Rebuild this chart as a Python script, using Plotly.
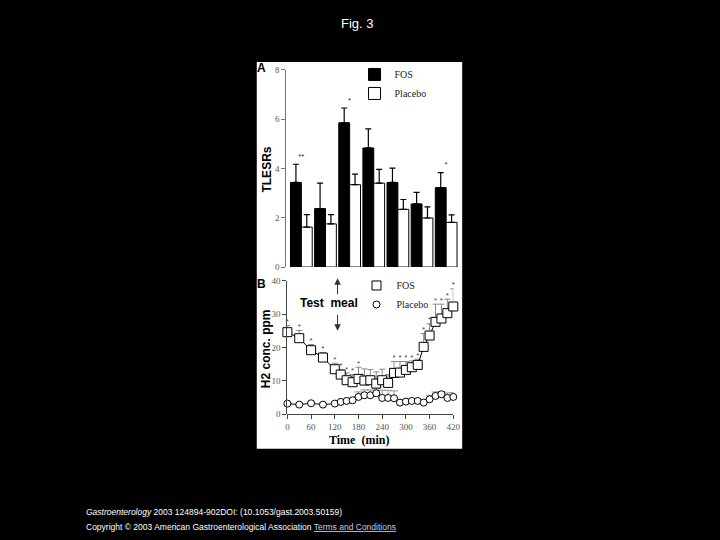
import plotly.graph_objects as go

# ── Panel A: TLESRs per period ───────────────────────────────────────────────
periods = ["1", "2", "3", "4", "5", "6", "7"]
fos_tlesr = [3.43, 2.37, 5.85, 4.83, 3.43, 2.56, 3.22]
fos_tlesr_err = [0.74, 1.03, 0.60, 0.77, 0.58, 0.47, 0.61]
pla_tlesr = [1.62, 1.75, 3.34, 3.40, 2.34, 1.99, 1.81]
pla_tlesr_err = [0.51, 0.38, 0.43, 0.56, 0.40, 0.45, 0.31]
fos_tlesr_sig = ["**", "", "*", "", "", "", "*"]

# ── Panel B: breath H2 concentration ────────────────────────────────────────
time_min = [0, 30, 60, 90, 120, 135, 150, 165, 180, 195, 210, 225, 240,
            255, 270, 285, 300, 315, 330, 345, 360, 375, 390, 405, 420]
fos_h2 = [24.6, 22.8, 19.2, 17.0, 13.5, 11.9, 10.2, 9.6, 10.6, 10.1, 10.2, 9.2, 10.2,
          9.4, 12.4, 12.5, 13.3, 14.1, 14.8, 20.2, 23.6, 27.7, 28.7, 30.3, 32.3]
fos_h2_err = [2.0, 2.3, 1.7, 1.5, 1.8, 1.5, 2.2, 2.3, 3.5, 3.5, 3.2, 3.5, 3.3,
              2.5, 3.4, 3.3, 2.5, 1.9, 1.7, 4.0, 3.5, 5.3, 4.3, 4.2, 5.3]
pla_h2 = [3.2, 2.9, 3.3, 2.9, 3.2, 3.7, 4.0, 4.2, 5.2, 5.7, 5.7, 6.3, 4.9,
          4.9, 4.8, 3.5, 3.8, 4.0, 4.0, 3.5, 4.5, 5.5, 6.0, 4.9, 5.2]
pla_h2_err = [0.4, 0.4, 0.4, 0.4, 0.4, 0.4, 0.4, 0.4, 1.5, 1.6, 1.6, 1.3, 2.3,
              2.3, 2.2, 0.4, 0.4, 0.4, 0.4, 0.4, 1.2, 1.2, 0.8, 1.5, 1.3]
fos_h2_sig = [1, 1, 1, 1, 1, 1, 1, 1, 1, 0, 0, 0, 0,
              0, 1, 1, 1, 1, 1, 1, 1, 1, 1, 1, 1]

W, H = 720, 540
SERIF = "Liberation Serif, DejaVu Serif, serif"
SANS = "Liberation Sans, Arial, sans-serif"


def px(x):
    return x / W


def py(y):
    return 1 - y / H


fig = go.Figure()

# ── Panel A bars ──
fig.add_trace(go.Bar(
    x=periods, y=fos_tlesr, name="FOS",
    marker=dict(color="black", line=dict(color="black", width=1)),
    error_y=dict(type="data", symmetric=False, array=fos_tlesr_err,
                 arrayminus=[0] * len(periods), color="black", thickness=1.2, width=3),
    xaxis="x", yaxis="y", legend="legend",
))
fig.add_trace(go.Bar(
    x=periods, y=pla_tlesr, name="Placebo",
    marker=dict(color="white", line=dict(color="black", width=1)),
    error_y=dict(type="data", symmetric=False, array=pla_tlesr_err,
                 arrayminus=[0] * len(periods), color="black", thickness=1.2, width=3),
    xaxis="x", yaxis="y", legend="legend",
))
fig.add_trace(go.Scatter(
    x=periods, y=[v + e + 0.3 for v, e in zip(fos_tlesr, fos_tlesr_err)],
    mode="text", text=fos_tlesr_sig, textfont=dict(size=8, color="#333", family=SANS),
    offsetgroup="1", showlegend=False, hoverinfo="skip", xaxis="x", yaxis="y",
))

# ── Panel B lines ──
fig.add_trace(go.Scatter(
    x=time_min, y=pla_h2, mode="lines+markers", showlegend=False,
    line=dict(color="black", width=1),
    marker=dict(symbol="circle", size=7, color="white", line=dict(color="black", width=1)),
    error_y=dict(type="data", symmetric=False, array=pla_h2_err,
                 arrayminus=[0] * len(time_min), color="#999", thickness=1, width=4),
    cliponaxis=False, xaxis="x2", yaxis="y2",
))
fig.add_trace(go.Scatter(
    x=time_min, y=fos_h2, mode="lines+markers", showlegend=False,
    line=dict(color="black", width=1),
    marker=dict(symbol="square", size=9, color="white", line=dict(color="black", width=1)),
    error_y=dict(type="data", symmetric=False, array=fos_h2_err,
                 arrayminus=[0] * len(time_min), color="#888", thickness=1, width=3),
    cliponaxis=False, xaxis="x2", yaxis="y2",
))
fig.add_trace(go.Scatter(
    x=time_min, y=[v + e + 1.0 for v, e in zip(fos_h2, fos_h2_err)],
    mode="text", text=["*" if s else "" for s in fos_h2_sig],
    textfont=dict(size=8, color="#444", family=SANS),
    showlegend=False, hoverinfo="skip", cliponaxis=False, xaxis="x2", yaxis="y2",
))
# legend-only markers for panel B
fig.add_trace(go.Scatter(
    x=[None], y=[None], mode="markers", name="FOS", legend="legend2",
    marker=dict(symbol="square", size=9, color="white", line=dict(color="black", width=1)),
    xaxis="x2", yaxis="y2",
))
fig.add_trace(go.Scatter(
    x=[None], y=[None], mode="markers", name="Placebo", legend="legend2",
    marker=dict(symbol="circle", size=7, color="white", line=dict(color="black", width=1)),
    xaxis="x2", yaxis="y2",
))

tickfont = dict(family=SERIF, size=9, color="#555")


def label(text, x, y, size, color="black", family=SANS, angle=0, xanchor="center"):
    return dict(text=text, x=px(x), y=py(y), xref="paper", yref="paper",
                xanchor=xanchor, yanchor="middle", textangle=angle, showarrow=False,
                font=dict(family=family, size=size, color=color))


annotations = [
    label("Fig. 3", 360, 19, 13, color="white"),
    label("<i>Gastroenterology</i> 2003 124894-902DOI: (10.1053/gast.2003.50159)",
          83, 517, 8.5, color="white", xanchor="left"),
    label("Copyright © 2003 American Gastroenterological Association "
          "<span style='text-decoration:underline;fill:#c8c8f0'>Terms and Conditions</span>",
          83, 532, 8.5, color="white", xanchor="left"),
    label("<b>A</b>", 263, 64, 12),
    label("<b>B</b>", 263, 284, 12),
    label("<b>TLESRs</b>", 268, 168, 12, angle=-90),
    label("<b>H2 conc. ppm</b>", 267, 350, 12, angle=-90),
    label("<b>Time  (min)</b>", 362, 443, 12, family=SERIF),
    label("<b>Test  meal</b>", 331, 304, 12),
    dict(x=127, y=40.8, ax=127, ay=35.5, xref="x2", yref="y2", axref="x2", ayref="y2",
         text="", showarrow=True, arrowhead=2, arrowsize=1.3, arrowwidth=1, arrowcolor="#333"),
    dict(x=127, y=25.0, ax=127, ay=30.3, xref="x2", yref="y2", axref="x2", ayref="y2",
         text="", showarrow=True, arrowhead=2, arrowsize=1.3, arrowwidth=1, arrowcolor="#333"),
]

fig.update_layout(
    width=W, height=H,
    margin=dict(l=0, r=0, t=0, b=0),
    paper_bgcolor="black",
    plot_bgcolor="rgba(0,0,0,0)",
    barmode="group", bargap=0.1, bargroupgap=0.0,
    showlegend=True,
    shapes=[dict(type="rect", xref="paper", yref="paper", layer="below",
                 x0=px(258), x1=px(466), y0=py(452), y1=py(58),
                 fillcolor="white", line=dict(width=0))],
    xaxis=dict(domain=[px(288), px(462)], type="category", range=[-0.62, 6.5],
               showticklabels=False, ticks="", showline=False, showgrid=False,
               zeroline=False, anchor="y"),
    yaxis=dict(domain=[py(267), py(66)], range=[0, 8], tickvals=[0, 2, 4, 6, 8],
               ticks="outside", ticklen=4, tickcolor="#777", showline=True,
               linecolor="#777", linewidth=1, showgrid=False, zeroline=False,
               tickfont=tickfont, anchor="x"),
    xaxis2=dict(domain=[px(289), px(457)], range=[0, 420],
                tickvals=[0, 60, 120, 180, 240, 300, 360, 420],
                ticks="outside", ticklen=4, tickcolor="#444", showline=True,
                linecolor="#444", linewidth=1, showgrid=False, zeroline=False,
                tickfont=tickfont, anchor="y2"),
    yaxis2=dict(domain=[py(417), py(281)], range=[0, 40], tickvals=[0, 10, 20, 30, 40],
                ticks="outside", ticklen=4, tickcolor="#444", showline=True,
                linecolor="#444", linewidth=1, showgrid=False, zeroline=False,
                tickfont=tickfont, anchor="free", position=px(288)),
    legend=dict(x=px(357), y=py(56), xanchor="left", yanchor="top",
                bgcolor="rgba(0,0,0,0)", font=dict(family=SERIF, size=10, color="#222"),
                itemwidth=30, tracegroupgap=2),
    legend2=dict(x=px(359), y=py(271), xanchor="left", yanchor="top",
                 bgcolor="rgba(0,0,0,0)", font=dict(family=SERIF, size=10, color="#222"),
                 itemwidth=30),
    annotations=annotations,
)

# the page's default body margin would shift the figure; drop it
fig.write_html("out.html",
               config={"displayModeBar": False},
               post_script="document.body.style.margin='0';"
                           "document.body.style.background='black';")
